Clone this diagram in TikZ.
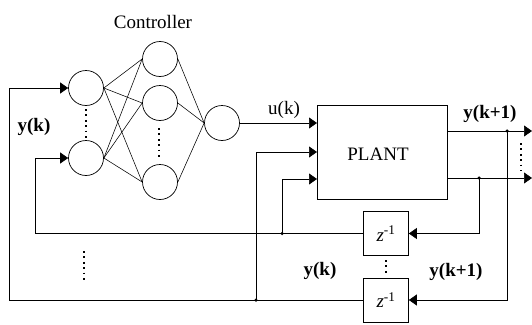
\documentclass[tikz,border=0pt]{standalone}
\usepackage{fontspec}
\setmainfont{Liberation Serif}
\usetikzlibrary{arrows.meta}
\begin{document}
\begin{tikzpicture}[x=1pt,y=-1pt,
  neuron/.style={circle,draw,line width=0.7pt,minimum size=35pt,inner sep=0pt},
  wire/.style={line width=0.7pt},
  nnwire/.style={line width=0.55pt},
  arr/.style={wire,-{Triangle[length=8pt,width=11pt]}},
  lbl/.style={inner sep=0pt,font=\fontsize{19}{22}\selectfont},
  blbl/.style={inner sep=0pt,font=\fontsize{19}{22}\selectfont\bfseries},
  dly/.style={draw,line width=0.7pt,minimum width=45pt,minimum height=44pt,inner sep=0pt,font=\fontsize{19}{22}\selectfont},
  plantbox/.style={draw,line width=0.8pt,minimum width=130pt,minimum height=94pt,inner sep=0pt},
  vdots/.style={line width=1.8pt,dash pattern=on 1.8pt off 3.6pt},
  jdot/.style={fill,circle,inner sep=0pt,minimum size=3.5pt}
]
\useasboundingbox (0,0) rectangle (532,324);

% controller network
\node[lbl] (ctl) at (153,22) {Controller};
\node[neuron] (i1) at (86,88) {};
\node[neuron] (i2) at (86,158) {};
\node[neuron] (h1) at (160,59) {};
\node[neuron] (h2) at (160,103) {};
\node[neuron] (h3) at (160,182) {};
\node[neuron] (o) at (222,123) {};
\foreach \a in {i1,i2}{\foreach \b in {h1,h2,h3}{\draw[nnwire] (\a.east) -- (\b.west);}}
\foreach \b in {h1,h2,h3}{\draw[nnwire] (\b.east) -- (o.west);}
\draw[vdots] (86,109) -- (86,139);
\draw[vdots] (159,128) -- (159,160);

% plant
\node[plantbox] (plant) at (382,152) {};
\node[lbl] (plantlbl) at (378,154) {PLANT};
\coordinate (p1) at (317,123);
\coordinate (p2) at (317,152);
\coordinate (p3) at (317,179);
\draw[arr] (o.east) -- (p1);
\node[lbl] (uk) at (284,110) {u(k)};

% plant outputs
\coordinate (q1) at (532,131);
\coordinate (q2) at (532,178);
\draw[arr] (plant.east |- q1) -- (q1);
\draw[arr] (plant.east |- q2) -- (q2);
\node[blbl] (yk1a) at (490,114) {y(k+1)};
\draw[vdots] (521,143) -- (521,171);

% delays
\node[dly] (uz) at (386,233.5) {\textit{z}\textsuperscript{-1}};
\node[dly] (lz) at (386,300) {\textit{z}\textsuperscript{-1}};
\draw[vdots] (386,260) -- (386,274);

% feedback from outputs to delays
\node[jdot] (j2) at (507,131) {};
\node[jdot] (j3) at (479,178) {};
\draw[arr] (j2.center) |- (lz.east);
\draw[arr] (j3.center) |- (uz.east);

% delayed signals back
\coordinate (c1) at (9,300);
\coordinate (c2) at (35,233.5);
\draw[arr] (lz.west) -- (c1) |- (i1.west);
\draw[arr] (uz.west) -- (c2) |- (i2.west);
\node[jdot] (j1) at (256,300) {};
\node[jdot] (j4) at (282,233.5) {};
\draw[arr] (j1.center) |- (p2);
\draw[arr] (j4.center) |- (p3);
\draw[vdots] (84,251) -- (84,281);

% labels
\node[blbl] (yka) at (34,127) {y(k)};
\node[blbl] (ykb) at (320,271) {y(k)};
\node[blbl] (yk1b) at (456,272) {y(k+1)};
\end{tikzpicture}
\end{document}
